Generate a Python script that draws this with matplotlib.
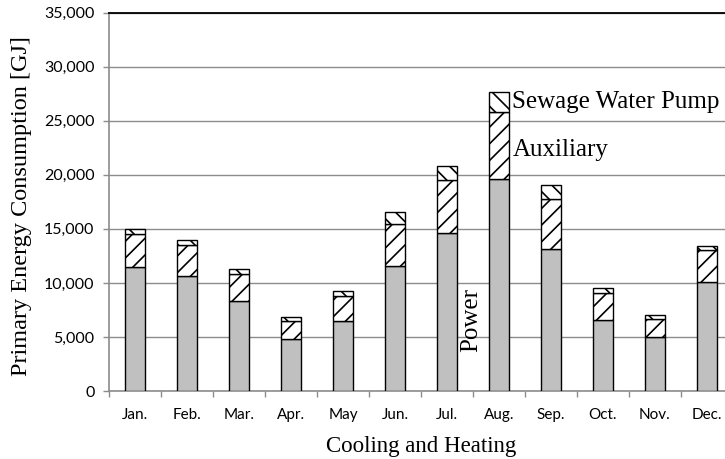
import numpy as np
import matplotlib
matplotlib.use('Agg')
import matplotlib.pyplot as plt
from matplotlib.ticker import FuncFormatter, MultipleLocator

# monthly primary energy consumption [GJ]
months = ['Jan.', 'Feb.', 'Mar.', 'Apr.', 'May', 'Jun.',
          'Jul.', 'Aug.', 'Sep.', 'Oct.', 'Nov.', 'Dec.']
power = [11450, 10650, 8330, 4840, 6450, 11540,
         14660, 19630, 13120, 6540, 4970, 10120]
auxiliary = [3050, 2900, 2500, 1610, 2350, 3920,
             4840, 6170, 4630, 2530, 1670, 2900]
sewage_pump = [470, 430, 470, 430, 460, 1110,
               1360, 1890, 1320, 500, 430, 440]

serif = ['Liberation Serif', 'DejaVu Serif']
tick_font = ['Lato', 'DejaVu Sans']

power = np.array(power)
auxiliary = np.array(auxiliary)
sewage_pump = np.array(sewage_pump)
x = np.arange(len(months))

plt.rcParams['hatch.linewidth'] = 1.2

fig = plt.figure(figsize=(7.25, 4.59), dpi=100)
ax = fig.add_axes([0.1503, 0.148, 0.8607, 0.8245])

w = 0.40
ax.bar(x, power, w, color='#c0c0c0', edgecolor='black', linewidth=1, zorder=3)
ax.bar(x, auxiliary, w, bottom=power, color='white', edgecolor='black',
       hatch='//', linewidth=1, zorder=3)
ax.bar(x, sewage_pump, w, bottom=power + auxiliary, color='white',
       edgecolor='black', hatch='\\\\', linewidth=1, zorder=3)

ax.set_xlim(-0.5, len(months) - 0.5)
ax.set_ylim(0, 35000)
ax.yaxis.set_major_locator(MultipleLocator(5000))
ax.yaxis.set_major_formatter(FuncFormatter(lambda v, p: f'{int(v):,}'))
ax.grid(axis='y', color='#8c8c8c', linewidth=1, zorder=0)

ax.set_xticks(x)
ax.set_xticklabels(months)
ax.set_xticks(np.arange(len(months) + 1) - 0.5, minor=True)
ax.tick_params(axis='x', which='major', length=0, pad=12)
ax.tick_params(axis='x', which='minor', length=4, color='#8c8c8c', width=1)
ax.tick_params(axis='y', length=4.5, color='#8c8c8c', width=1, pad=6)
for lab in ax.get_xticklabels():
    lab.set_family(tick_font)
    lab.set_fontsize(11)
for lab in ax.get_yticklabels():
    lab.set_family(tick_font)
    lab.set_fontsize(11.5)

for s in ['left', 'bottom']:
    ax.spines[s].set_color('#8c8c8c')
    ax.spines[s].set_linewidth(1.2)
ax.spines['top'].set_color('black')
ax.spines['top'].set_linewidth(1.3)
ax.spines['right'].set_visible(False)

ax.set_ylabel('Primary Energy Consumption [GJ]', family=serif, fontsize=17.5)
ax.yaxis.set_label_coords(-0.123, 0.489)
ax.set_xlabel('Cooling and Heating', family=serif, fontsize=16.5)
ax.xaxis.set_label_coords(0.5, -0.119)

# in-plot labels next to the August bar
aug = months.index('Aug.')
ax.text(aug + 0.26, power[aug] + auxiliary[aug] + sewage_pump[aug] / 2,
        'Sewage Water Pump', family=serif, fontsize=18, va='center', ha='left', zorder=4)
ax.text(aug + 0.26, power[aug] + auxiliary[aug] / 2 - 450,
        'Auxiliary', family=serif, fontsize=18, va='center', ha='left', zorder=4)
ax.text(aug - 0.54, 6570, 'Power', family=serif, fontsize=18,
        rotation=90, va='center', ha='center', zorder=4)

fig.savefig('out.png', dpi=100)
